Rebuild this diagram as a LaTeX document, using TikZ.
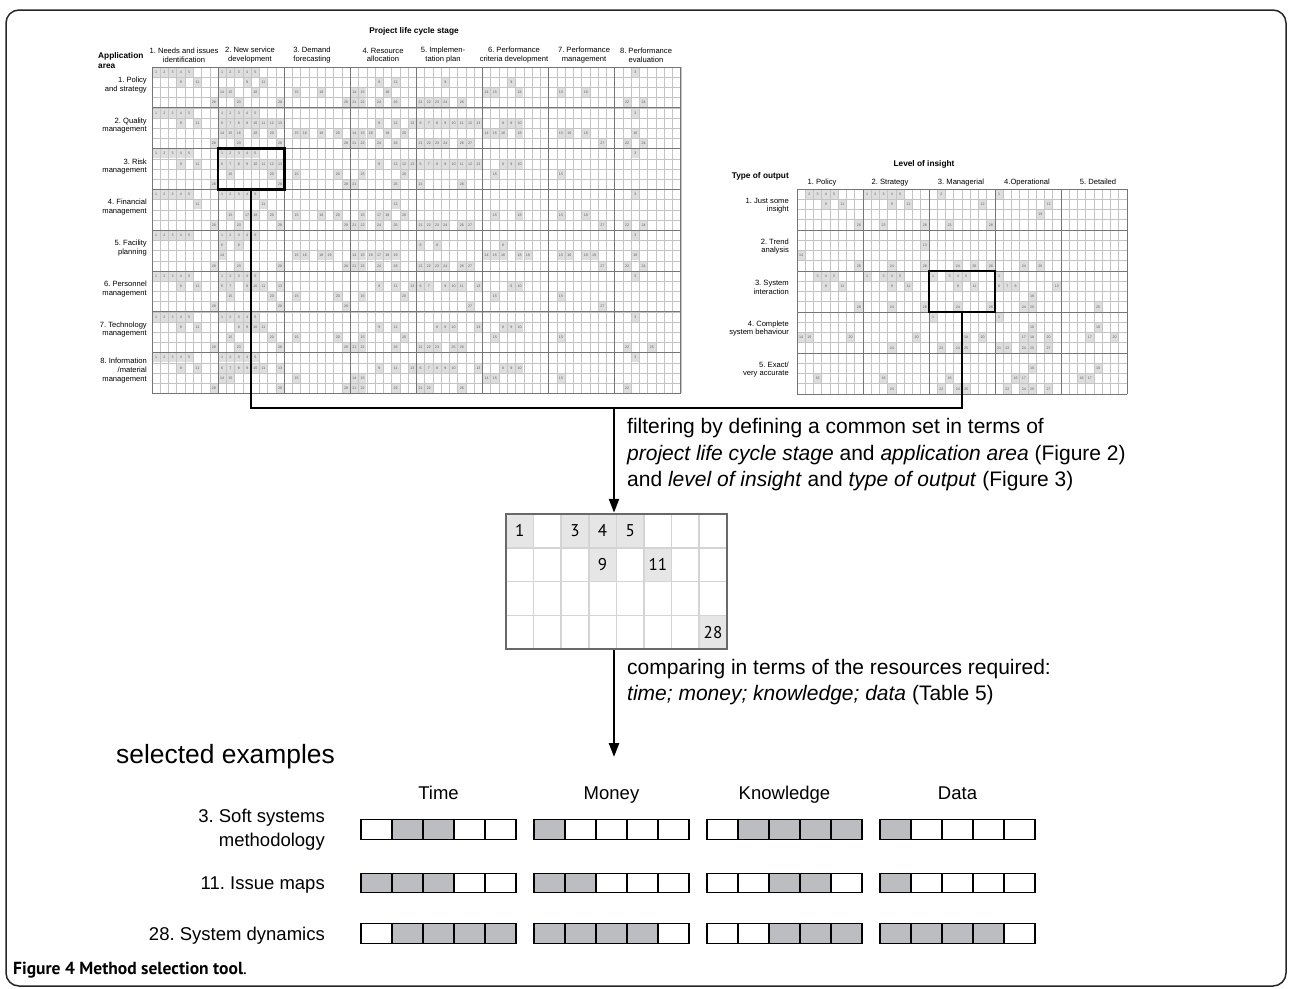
\documentclass[tikz,border=0pt]{standalone}
\usepackage{fontspec}
\setmainfont{Liberation Sans}
\newfontfamily\numfont{PT Sans}
\usetikzlibrary{arrows.meta,positioning,calc}
\definecolor{cellgray}{RGB}{196,196,196}
\definecolor{blockgray}{RGB}{118,118,118}
\definecolor{hlgray}{RGB}{222,222,222}
\definecolor{numgray}{RGB}{95,95,95}
\definecolor{setgray}{RGB}{230,230,230}
\definecolor{setline}{RGB}{212,212,212}
\definecolor{framegray}{RGB}{105,105,105}
\definecolor{bargray}{RGB}{188,189,192}

\begin{document}
\frenchspacing
\begin{tikzpicture}[x=1pt,y=-1pt,
  cellline/.style={draw=cellgray, line width=0.6},
  blockline/.style={draw=blockgray, line width=1},
  hlcell/.style={fill=hlgray, minimum width=7.6, minimum height=9.5, inner sep=0,
                 text=numgray, font=\fontsize{3.6}{4}\selectfont},
  smalllbl/.style={font=\fontsize{7.6}{8.6}\selectfont, inner sep=0},
  headlbl/.style={font=\bfseries\fontsize{8.3}{10}\selectfont, inner sep=0},
  selbox/.style={draw, line width=2.6, inner sep=0},
  link/.style={line width=2.6},
  flow/.style={line width=2.4, -{Triangle[length=14pt,width=10pt]}},
  flowtext/.style={font=\fontsize{21}{26.5}\selectfont, align=left, inner sep=0},
  setcell/.style={fill=setgray, minimum width=26, minimum height=32, inner sep=0,
                  font=\numfont\fontsize{17}{17}\selectfont},
  barcell/.style={draw, line width=1.3, minimum width=31, minimum height=19.5, inner sep=0},
  barlbl/.style={font=\fontsize{18.5}{24}\selectfont, inner sep=0}]
  \useasboundingbox (0,0) rectangle (1292,988);
  \draw[black!85, line width=1.5, rounded corners=13] (6,10) rectangle (1286,986);

  % Project life cycle stage x application area
  \node[headlbl] (plcs) at (414,31.7) {Project life cycle stage};
  \node[headlbl, anchor=west, align=left] (appar) at (98,61) {Application\\area};
  \foreach \txt/\xx [count=\co] in {{1. Needs and issues\\identification}/184,
      {2. New service\\development}/250, {3. Demand\\forecasting}/312,
      {4. Resource\\allocation}/383, {5. Implemen-\\tation plan}/443,
      {6. Performance\\criteria development}/514, {7. Performance\\management}/584,
      {8. Performance\\evaluation}/646}
    \node[smalllbl, align=center] (st\co) at (\xx,55) {\txt};
  \foreach \txt [count=\ro] in {{1. Policy\\and strategy}, {2. Quality\\management},
      {3. Risk\\management}, {4. Financial\\management}, {5. Facility\\planning},
      {6. Personnel\\management}, {7. Technology\\management},
      {8. Information\\/material\\management}}
    \node[smalllbl, align=right, anchor=east] (ar\ro) at (147,{67+(\ro-0.5)*40.8-2.5}) {\txt};
  \foreach \ro/\co/\ids in {
      1/1/{1,...,5,9,11,28}, 1/2/{1,...,5,9,11,14,15,18,23,28}, 1/3/{15,18,28},
      1/4/{9,11,14,15,18,21,22,24,26}, 1/5/{9,21,22,23,24,26}, 1/6/{9,14,15,18},
      1/7/{15,18}, 1/8/{3,22,24},
      2/1/{1,...,5,9,11,28}, 2/2/{1,...,16,18,20,23,28}, 2/3/{15,16,18,20,28},
      2/4/{9,11,13,14,15,16,18,20,21,22,24,26}, 2/5/{6,...,13,21,22,23,24,26,27},
      2/6/{8,9,10,14,15,16,18}, 2/7/{15,16,18,27}, 2/8/{3,16,22,24},
      3/1/{1,...,5,9,11,28}, 3/2/{1,...,13,15,20,28}, 3/3/{15,20,28},
      3/4/{9,11,12,13,15,20,21,26}, 3/5/{6,...,13,21,26}, 3/6/{8,9,10,15},
      3/7/{15}, 3/8/{3},
      4/1/{1,...,5,11,28}, 4/2/{1,...,5,11,15,17,18,20,23,28}, 4/3/{15,18,20,28},
      4/4/{11,15,17,18,20,21,22,24,26}, 4/5/{21,22,23,24,26,27}, 4/6/{15,18},
      4/7/{15,18,27}, 4/8/{3,22,24},
      5/1/{1,...,5,28}, 5/2/{1,...,6,8,14,...,19,23,28}, 5/3/{15,16,18,19,28},
      5/4/{14,...,19,21,22,24,26}, 5/5/{6,8,21,22,23,24,26,27}, 5/6/{8,14,15,16,18,19},
      5/7/{15,16,18,19,27}, 5/8/{3,16,22,24},
      6/1/{1,...,5,9,11,28}, 6/2/{1,...,7,9,10,11,13,15,20,28}, 6/3/{15,20,28},
      6/4/{9,11,13,15,20}, 6/5/{6,7,9,10,11,13,27}, 6/6/{9,10,15}, 6/7/{15,27}, 6/8/{3},
      7/1/{1,...,5,9,11,28}, 7/2/{1,...,5,8,9,10,11,15,20,23,28}, 7/3/{15,20,28},
      7/4/{9,11,15,20,21,22,26}, 7/5/{8,9,10,13,21,22,23,25,26}, 7/6/{8,9,10,15},
      7/7/{15}, 7/8/{3,22,25},
      8/1/{1,...,5,9,11,28}, 8/2/{1,...,11,13,14,15,28}, 8/3/{15,28},
      8/4/{9,11,13,14,15,21,22,26}, 8/5/{6,...,10,13,21,22,26}, 8/6/{8,9,10,14,15},
      8/7/{15}, 8/8/{3,22}}{
    \foreach \n in \ids {
      \pgfmathtruncatemacro\rw{(\n>5)+(\n>13)+(\n>20)}
      \pgfmathtruncatemacro\cl{\n-1-5*(\n>5)-8*(\n>13)-7*(\n>20)}
      \node[hlcell] (a\ro-\co-\n) at ({152+(\co-1)*66.1+(\cl+0.5)*8.2625},{67+(\ro-1)*40.8+(\rw+0.5)*10.2}) {\n};
    }
  }
  \foreach \ix in {0,...,64} \draw[cellline] ({152+\ix*8.2625},67) -- ++(0,326.4);
  \foreach \iy in {0,...,32} \draw[cellline] (152,{67+\iy*10.2}) -- ++(528.8,0);
  \foreach \ix in {0,...,8} \draw[blockline] ({152+\ix*66.1},67) -- ++(0,326.4);
  \foreach \iy in {0,...,8} \draw[blockline] (152,{67+\iy*40.8}) -- ++(528.8,0);

  % Level of insight x type of output
  \node[headlbl] (loi) at (924,164.3) {Level of insight};
  \node[headlbl, anchor=east] (tyo) at (789,176) {Type of output};
  \foreach \txt/\xx [count=\co] in {1. Policy/822, 2. Strategy/890, 3. Managerial/961,
      4.Operational/1027, 5. Detailed/1098}
    \node[smalllbl, anchor=base] (lv\co) at (\xx,184.5) {\txt};
  \foreach \txt [count=\ro] in {{1. Just some\\insight}, {2. Trend\\analysis},
      {3. System\\interaction}, {4. Complete\\system behaviour}, {5. Exact/\\very accurate}}
    \node[smalllbl, align=right, anchor=east] (ty\ro) at (789,{189+(\ro-0.5)*41-4}) {\txt};
  \foreach \ro/\co/\ids in {
      1/1/{2,3,4,5,9,11,28}, 1/2/{1,...,5,9,11,23,28}, 1/3/{2,12,23,28}, 1/4/{1,12,19},
      2/1/{14,28}, 2/2/{13,24,28}, 2/3/{24,26,28}, 2/4/{24,26},
      3/1/{3,4,5,9,11,28}, 3/2/{1,3,4,5,9,11,24,28}, 3/3/{1,3,4,5,9,11,24,28},
      3/4/{1,6,7,8,13,18,24,25}, 3/5/{25},
      4/1/{14,15,20}, 4/2/{20,24}, 4/3/{1,18,20,22,24,25},
      4/4/{1,10,17,18,20,21,22,24,25,27}, 4/5/{10,17,20},
      5/1/{16}, 5/2/{16,24}, 5/3/{16,22,24,25}, 5/4/{10,16,17,22,24,25,27},
      5/5/{10,16,17}}{
    \foreach \n in \ids {
      \pgfmathtruncatemacro\rw{(\n>5)+(\n>13)+(\n>20)}
      \pgfmathtruncatemacro\cl{\n-1-5*(\n>5)-8*(\n>13)-7*(\n>20)}
      \node[hlcell] (t\ro-\co-\n) at ({797+(\co-1)*66+(\cl+0.5)*8.25},{189+(\ro-1)*41+(\rw+0.5)*10.25}) {\n};
    }
  }
  \foreach \ix in {0,...,40} \draw[cellline] ({797+\ix*8.25},189) -- ++(0,205);
  \foreach \iy in {0,...,20} \draw[cellline] (797,{189+\iy*10.25}) -- ++(330,0);
  \foreach \ix in {0,...,5} \draw[blockline] ({797+\ix*66},189) -- ++(0,205);
  \foreach \iy in {0,...,5} \draw[blockline] (797,{189+\iy*41}) -- ++(330,0);

  % Chosen blocks and filtering
  \node[selbox, minimum width=66.1, minimum height=40.8] (selA) at (251.15,169) {};
  \node[selbox, minimum width=66, minimum height=41] (selB) at (962,291.5) {};
  \coordinate (jn) at (614,408);
  \draw[link] (selA.south) |- (jn) -| (selB.south);
  \node[flowtext, anchor=north west] (filt) at (627,418.5)
    {filtering by defining a common set in terms of\\
     \textit{project life cycle stage} and \textit{application area} (Figure 2)\\
     and \textit{level of insight} and \textit{type of output} (Figure 3)};

  % Common set
  \foreach \n in {1,3,4,5,9,11,28}{
    \pgfmathtruncatemacro\rw{(\n>5)+(\n>13)+(\n>20)}
    \pgfmathtruncatemacro\cl{\n-1-5*(\n>5)-8*(\n>13)-7*(\n>20)}
    \node[setcell] (c\n) at ({506+(\cl+0.5)*27.6},{514+(\rw+0.5)*33.75}) {\n};
  }
  \foreach \ix in {1,...,7} \draw[setline, line width=1.5] ({506+\ix*27.6},514) -- ++(0,135);
  \foreach \iy in {1,...,3} \draw[setline, line width=1.5] (506,{514+\iy*33.75}) -- ++(221,0);
  \node[draw=framegray, line width=2.5, minimum width=221, minimum height=135, inner sep=0]
    (fgrid) at (616.5,581.5) {};
  \draw[flow] (jn) -- (jn |- fgrid.north);

  \coordinate (pick) at (614,757);
  \draw[flow] (jn |- fgrid.south) -- (pick);
  \node[flowtext, anchor=north west] (comp) at (627,659)
    {comparing in terms of the resources required:\\
     \textit{time; money; knowledge; data} (Table 5)};

  % Selected examples
  \node[anchor=west, inner sep=0, font=\fontsize{26.4}{30}\selectfont] (selex) at (116,757) {selected examples};
  \foreach \txt [count=\grp from 0] in {Time,Money,Knowledge,Data}
    \node[barlbl, anchor=base] (hd\grp) at ({361+\grp*173+77.5},799.5) {\txt};
  \node[barlbl, align=right, anchor=east] (m3) at (325,830) {3. Soft systems\\methodology};
  \node[barlbl, anchor=base east] (m11) at (325,889.5) {11. Issue maps};
  \node[barlbl, anchor=base east] (m28) at (325,940) {28. System dynamics};
  \foreach \ro/\yy/\vals in {
      1/829.5/{0,1,1,0,0, 1,0,0,0,0, 0,1,1,1,1, 1,0,0,0,0},
      2/883/{1,1,1,0,0, 1,1,0,0,0, 0,0,1,1,0, 1,0,0,0,0},
      3/933.5/{0,1,1,1,1, 1,1,1,1,0, 0,0,1,1,1, 1,1,1,1,0}}{
    \foreach \val [count=\k from 0] in \vals {
      \pgfmathtruncatemacro\grp{\k/5}
      \pgfmathtruncatemacro\pos{\k-5*\grp}
      \ifnum\val=1 \def\fc{bargray}\else\def\fc{white}\fi
      \node[barcell, fill=\fc] (b\ro-\k) at ({361+\grp*173+(\pos+0.5)*31},\yy) {};
    }
  }

  \node[anchor=base west, inner sep=0, font=\numfont\fontsize{17.5}{20}\selectfont] (cap)
    at (13,974) {\textbf{Figure 4 Method selection tool}.};
\end{tikzpicture}
\end{document}
